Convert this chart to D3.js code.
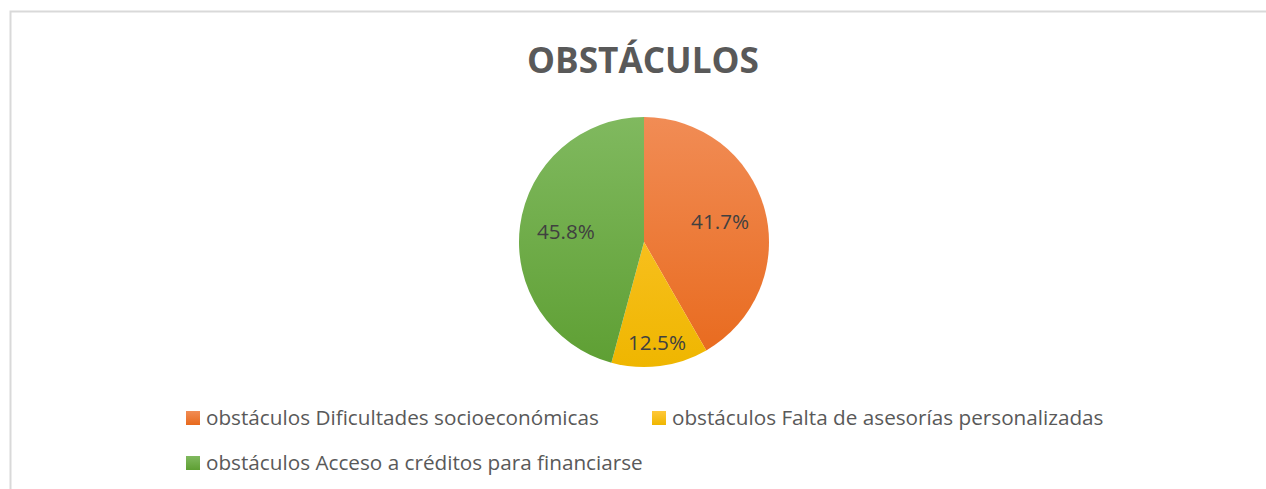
<!DOCTYPE html>
<html>
<head>
<meta charset="utf-8">
<script src="https://cdn.jsdelivr.net/npm/d3@7"></script>
<style>
	body { margin: 0; background: #fff; overflow: hidden; }
	svg { display: block; font-family: 'Open Sans', sans-serif; }
</style>
</head>
<body>
<svg id="chart-svg" width="1266" height="489"></svg>
<script>
const TITLE = 'OBSTÁCULOS';
const categories = [
	'obstáculos Dificultades socioeconómicas',
	'obstáculos Falta de asesorías personalizadas',
	'obstáculos Acceso a créditos para financiarse'
];
const values = [41.7, 12.5, 45.8];
const colorsTop = ['#f18c55', '#ffc83a', '#80b95f'];
const colorsBottom = ['#e8691c', '#efb600', '#5e9f33'];

const svg = d3.select('#chart-svg');
const cx = 644;
const cy = 242;
const radius = 125;

// chart area border: only top and left edges are inside the window
svg.append('path')
	.attr('d', 'M10.5,489 L10.5,11.5 L1266,11.5')
	.attr('fill', 'none')
	.attr('stroke', '#d9d9d9')
	.attr('stroke-width', 2);

// vertical gradients like excel's shaded pie
const defs = svg.append('defs');
values.forEach((v, i) => {
	const g = defs.append('linearGradient')
		.attr('id', 'grad' + i)
		.attr('gradientUnits', 'userSpaceOnUse')
		.attr('x1', 0).attr('y1', -radius)
		.attr('x2', 0).attr('y2', radius);
	g.append('stop').attr('offset', '0%').attr('stop-color', colorsTop[i]);
	g.append('stop').attr('offset', '100%').attr('stop-color', colorsBottom[i]);
	const lg = defs.append('linearGradient')
		.attr('id', 'lgrad' + i)
		.attr('x1', 0).attr('y1', 0).attr('x2', 0).attr('y2', 1);
	lg.append('stop').attr('offset', '0%').attr('stop-color', colorsTop[i]);
	lg.append('stop').attr('offset', '100%').attr('stop-color', colorsBottom[i]);
});

// title, fitted to the reference width
const title = svg.append('text')
	.attr('x', cx - 1)
	.attr('y', 73)
	.attr('text-anchor', 'middle')
	.attr('font-weight', 'bold')
	.attr('font-size', 40)
	.attr('fill', '#595959')
	.text(TITLE);
title.attr('font-size', 40 * 232 / title.node().getComputedTextLength());

// pie
const pie = d3.pie().sort(null).value((d) => d);
const arcs = pie(values);
const arc = d3.arc().innerRadius(0).outerRadius(radius);
const pieG = svg.append('g').attr('transform', 'translate(' + cx + ',' + cy + ')');
pieG.selectAll('path')
	.data(arcs)
	.enter()
	.append('path')
	.attr('d', arc)
	.attr('fill', (d, i) => 'url(#grad' + i + ')');

// data labels; small slices get pushed outward like excel's best fit
const pct = pieG.selectAll('text.pct')
	.data(arcs)
	.enter()
	.append('text')
	.attr('class', 'pct')
	.attr('text-anchor', 'middle')
	.attr('dy', '0.35em')
	.attr('font-size', 19)
	.attr('fill', '#404040')
	.attr('transform', (d) => {
		const share = (d.endAngle - d.startAngle) / (2 * Math.PI);
		const r = share < 0.2 ? radius * 0.81 : radius * 0.63;
		const a = (d.startAngle + d.endAngle) / 2;
		return 'translate(' + (r * Math.sin(a)) + ',' + (-r * Math.cos(a)) + ')';
	})
	.text((d) => d.data.toFixed(1) + '%');
pct.attr('font-size', 19 * 58 / pct.node().getComputedTextLength());

// legend
const legendPos = [[186, 418], [652, 418], [186, 463]];
const legendG = svg.append('g').attr('id', 'legend');
const items = legendG.selectAll('g')
	.data(categories)
	.enter()
	.append('g')
	.attr('transform', (d, i) => 'translate(' + legendPos[i][0] + ',' + legendPos[i][1] + ')');
items.append('rect')
	.attr('x', 0).attr('y', -7)
	.attr('width', 14).attr('height', 14)
	.attr('fill', (d, i) => 'url(#lgrad' + i + ')');
const legendText = items.append('text')
	.attr('x', 20)
	.attr('dy', '0.35em')
	.attr('font-size', 20)
	.attr('fill', '#595959')
	.text((d) => d);
const fitSize = 20 * 393 / legendText.node().getComputedTextLength();
legendText.attr('font-size', fitSize);
</script>
</body>
</html>
